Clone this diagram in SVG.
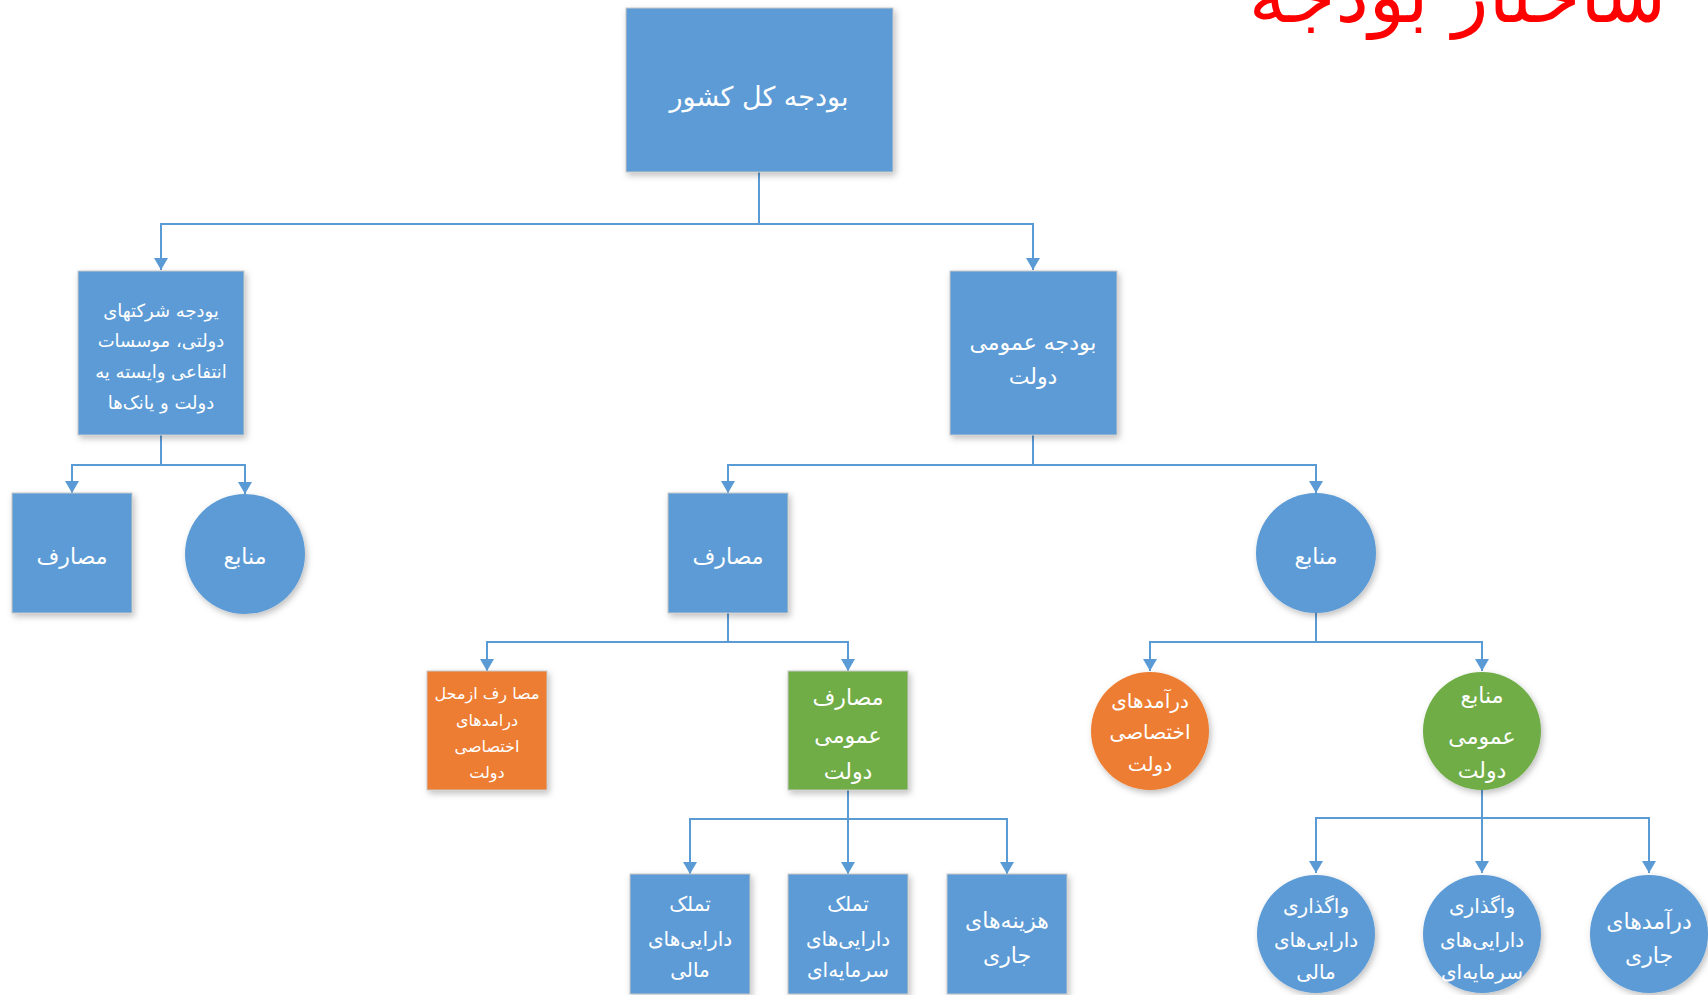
<svg xmlns="http://www.w3.org/2000/svg" width="1708" height="995" viewBox="0 0 1708 995">
<style>
.bg{fill:#ffffff}
.blue{fill:#5B9BD5}
.orange{fill:#ED7D31}
.green{fill:#70AD47}
.shape{filter:url(#sh);stroke:#c8c8c8;stroke-width:1}
.circ{filter:url(#sh)}
.t{fill:#ffffff;font-family:"DejaVu Sans",sans-serif;text-anchor:middle;direction:rtl;dominant-baseline:central}
.conn path{fill:none;stroke:#5B9BD5;stroke-width:2;marker-end:url(#arr)}
.title{fill:#ff0000;font-family:"DejaVu Sans",sans-serif;font-size:75px;text-anchor:start;direction:rtl}
</style>
<defs>
<filter id="sh" x="-20%" y="-20%" width="140%" height="140%">
<feDropShadow dx="2" dy="3" stdDeviation="3" flood-color="#000" flood-opacity="0.25"/>
</filter>
<marker id="arr" viewBox="0 0 12 14" refX="12" refY="7" markerWidth="12" markerHeight="14" markerUnits="userSpaceOnUse" orient="auto">
<path d="M0,0 L12,7 L0,14 z" fill="#5B9BD5"/>
</marker>
</defs>
<rect class="bg" x="0" y="0" width="1708" height="995"/>
<text class="title" x="1666" y="22">ساختار بودجه</text>
<g class="conn" id="connectors">
<path d="M759,172 V224 H161 V270"/>
<path d="M759,224 H1033 V270"/>
<path d="M161,435 V465 H72 V493"/>
<path d="M161,465 H245 V494"/>
<path d="M1033,435 V465 H728 V493"/>
<path d="M1033,465 H1316 V493"/>
<path d="M728,613 V642 H487 V671"/>
<path d="M728,642 H848 V671"/>
<path d="M1316,613 V642 H1150 V671"/>
<path d="M1316,642 H1482 V671"/>
<path d="M848,790 V819 H690 V874"/>
<path d="M848,819 V874"/>
<path d="M848,819 H1007 V874"/>
<path d="M1482,790 V818 H1316 V873"/>
<path d="M1482,818 V873"/>
<path d="M1482,818 H1649 V873"/>
</g>
<g id="n-root">
<rect class="blue shape" x="626" y="8" width="267" height="164"/>
<text class="t" x="759" y="96" font-size="27">بودجه کل کشور</text>
</g>
<g id="n-companies">
<rect class="blue shape" x="78" y="271" width="166" height="164"/>
<text class="t" x="161" y="310" font-size="18">یودجه شرکتهای</text>
<text class="t" x="161" y="340" font-size="18">دولتی، موسسات</text>
<text class="t" x="161" y="371" font-size="18">انتفاعی وایسته یه</text>
<text class="t" x="161" y="402" font-size="18">دولت و یانک‌ها</text>
</g>
<g id="n-general">
<rect class="blue shape" x="950" y="271" width="167" height="164"/>
<text class="t" x="1033" y="342" font-size="22">بودجه عمومی</text>
<text class="t" x="1033" y="376" font-size="22">دولت</text>
</g>
<g id="n-left-exp">
<rect class="blue shape" x="12" y="493" width="120" height="120"/>
<text class="t" x="72" y="556" font-size="22">مصارف</text>
</g>
<g id="n-left-res">
<circle class="blue circ" cx="245" cy="554" r="60"/>
<text class="t" x="245" y="556" font-size="22">منابع</text>
</g>
<g id="n-exp">
<rect class="blue shape" x="668" y="493" width="120" height="120"/>
<text class="t" x="728" y="556" font-size="22">مصارف</text>
</g>
<g id="n-res">
<circle class="blue circ" cx="1316" cy="553" r="60"/>
<text class="t" x="1316" y="556" font-size="22">منابع</text>
</g>
<g id="n-exp-special">
<rect class="orange shape" x="427" y="671" width="120" height="119"/>
<text class="t" x="487" y="693" font-size="16">مصا رف ازمحل</text>
<text class="t" x="487" y="720" font-size="16">درامدهای</text>
<text class="t" x="487" y="746" font-size="16">اختصاصی</text>
<text class="t" x="487" y="772" font-size="16">دولت</text>
</g>
<g id="n-exp-general">
<rect class="green shape" x="788" y="671" width="120" height="119"/>
<text class="t" x="848" y="697" font-size="22">مصارف</text>
<text class="t" x="848" y="735" font-size="22">عمومی</text>
<text class="t" x="848" y="771" font-size="22">دولت</text>
</g>
<g id="n-res-special">
<circle class="orange circ" cx="1150" cy="731" r="59"/>
<text class="t" x="1150" y="701" font-size="20">درآمدهای</text>
<text class="t" x="1150" y="732" font-size="20">اختصاصی</text>
<text class="t" x="1150" y="764" font-size="20">دولت</text>
</g>
<g id="n-res-general">
<circle class="green circ" cx="1482" cy="731" r="59"/>
<text class="t" x="1482" y="695" font-size="22">منابع</text>
<text class="t" x="1482" y="736" font-size="22">عمومی</text>
<text class="t" x="1482" y="770" font-size="22">دولت</text>
</g>
<g id="n-fin-acq">
<rect class="blue shape" x="630" y="874" width="120" height="120"/>
<text class="t" x="690" y="904" font-size="20">تملک</text>
<text class="t" x="690" y="939" font-size="20">دارایی‌های</text>
<text class="t" x="690" y="970" font-size="20">مالی</text>
</g>
<g id="n-cap-acq">
<rect class="blue shape" x="788" y="874" width="120" height="120"/>
<text class="t" x="848" y="904" font-size="20">تملک</text>
<text class="t" x="848" y="939" font-size="20">دارایی‌های</text>
<text class="t" x="848" y="970" font-size="20">سرمایه‌ای</text>
</g>
<g id="n-current-exp">
<rect class="blue shape" x="947" y="874" width="120" height="120"/>
<text class="t" x="1007" y="920" font-size="22">هزینه‌های</text>
<text class="t" x="1007" y="955" font-size="22">جاری</text>
</g>
<g id="n-fin-disp">
<circle class="blue circ" cx="1316" cy="934" r="59"/>
<text class="t" x="1316" y="906" font-size="20">واگذاری</text>
<text class="t" x="1316" y="940" font-size="20">دارایی‌های</text>
<text class="t" x="1316" y="972" font-size="20">مالی</text>
</g>
<g id="n-cap-disp">
<circle class="blue circ" cx="1482" cy="934" r="59"/>
<text class="t" x="1482" y="906" font-size="20">واگذاری</text>
<text class="t" x="1482" y="940" font-size="20">دارایی‌های</text>
<text class="t" x="1482" y="972" font-size="20">سرمایه‌ای</text>
</g>
<g id="n-current-rev">
<circle class="blue circ" cx="1649" cy="934" r="59"/>
<text class="t" x="1649" y="921" font-size="22">درآمدهای</text>
<text class="t" x="1649" y="955" font-size="22">جاری</text>
</g>
</svg>
